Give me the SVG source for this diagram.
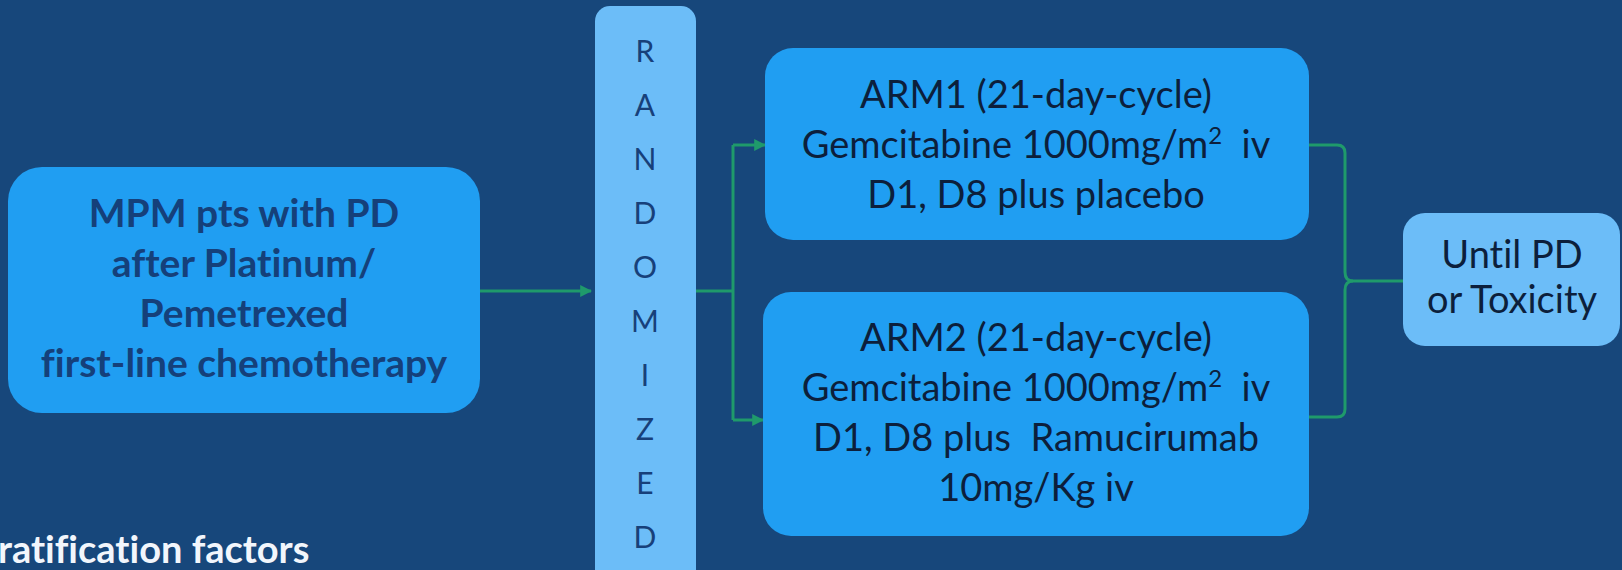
<svg xmlns="http://www.w3.org/2000/svg" width="1622" height="570" viewBox="0 0 1622 570">
<defs>
<style>
.bg{fill:#17477b}
.box{fill:#209ef2}
.lbox{fill:#6cbdf8}
.conn{fill:none;stroke:#1f9a6b;stroke-width:3}
text{font-variant-ligatures:none}
.t{font-family:Lato,"Open Sans",sans-serif;text-anchor:middle}
.bold{font-weight:700;fill:#15407a;font-size:39px}
.reg{font-weight:400;fill:#0c1f3c;font-size:38px}
.rand{font-weight:400;fill:#17407a;font-size:30px}
.foot{font-family:Lato,"Open Sans",sans-serif;font-weight:700;fill:#f2f6fc;font-size:38px}
</style>
<marker id="ah" viewBox="0 0 10 10" refX="9" refY="5" markerWidth="4" markerHeight="4" orient="auto" markerUnits="strokeWidth">
<path d="M0,0 L10,5 L0,10 z" fill="#1f9a6b"/>
</marker>
</defs>
<rect class="bg" x="0" y="0" width="1622" height="570"/>

<g id="connectors">
<path class="conn" d="M480,291 H591" marker-end="url(#ah)"/>
<path class="conn" d="M696,291 H733"/>
<path class="conn" d="M733,145 V420"/>
<path class="conn" d="M733,145 H765" marker-end="url(#ah)"/>
<path class="conn" d="M733,420 H763" marker-end="url(#ah)"/>
<path class="conn" d="M1300,145 H1337 Q1345,145 1345,153 V272 Q1345,281 1353,281 H1403"/>
<path class="conn" d="M1300,417 H1337 Q1345,417 1345,409 V290 Q1345,281 1353,281"/>
</g>

<g id="node-patients">
<rect class="box" x="8" y="167" width="472" height="246" rx="34"/>
<text class="t bold" x="244" y="227">MPM pts with PD</text>
<text class="t bold" x="244" y="277">after Platinum/</text>
<text class="t bold" x="244" y="327">Pemetrexed</text>
<text class="t bold" x="244" y="377">first-line chemotherapy</text>
</g>

<g id="node-randomized">
<rect class="lbox" x="595" y="6" width="101" height="580" rx="15"/>
<text class="t rand" x="645" y="62">R</text>
<text class="t rand" x="645" y="116">A</text>
<text class="t rand" x="645" y="170">N</text>
<text class="t rand" x="645" y="224">D</text>
<text class="t rand" x="645" y="278">O</text>
<text class="t rand" x="645" y="332">M</text>
<text class="t rand" x="645" y="386">I</text>
<text class="t rand" x="645" y="440">Z</text>
<text class="t rand" x="645" y="494">E</text>
<text class="t rand" x="645" y="548">D</text>
</g>

<g id="node-arm1">
<rect class="box" x="765" y="48" width="544" height="192" rx="28"/>
<text class="t reg" x="1036" y="108">ARM1 (21-day-cycle)</text>
<text class="t reg" x="1036" y="158" xml:space="preserve">Gemcitabine 1000mg/m<tspan font-size="24" dy="-14">2</tspan><tspan dy="14">  iv</tspan></text>
<text class="t reg" x="1036" y="208">D1, D8 plus placebo</text>
</g>

<g id="node-arm2">
<rect class="box" x="763" y="292" width="546" height="244" rx="28"/>
<text class="t reg" x="1036" y="351">ARM2 (21-day-cycle)</text>
<text class="t reg" x="1036" y="401" xml:space="preserve">Gemcitabine 1000mg/m<tspan font-size="24" dy="-14">2</tspan><tspan dy="14">  iv</tspan></text>
<text class="t reg" x="1036" y="451" xml:space="preserve">D1, D8 plus  Ramucirumab</text>
<text class="t reg" x="1036" y="501">10mg/Kg iv</text>
</g>

<g id="node-until">
<rect class="lbox" x="1403" y="213" width="217" height="133" rx="22"/>
<text class="t reg" x="1512" y="268">Until PD</text>
<text class="t reg" x="1512" y="313">or Toxicity</text>
</g>

<text class="foot" x="-2" y="563">ratification factors</text>
</svg>
